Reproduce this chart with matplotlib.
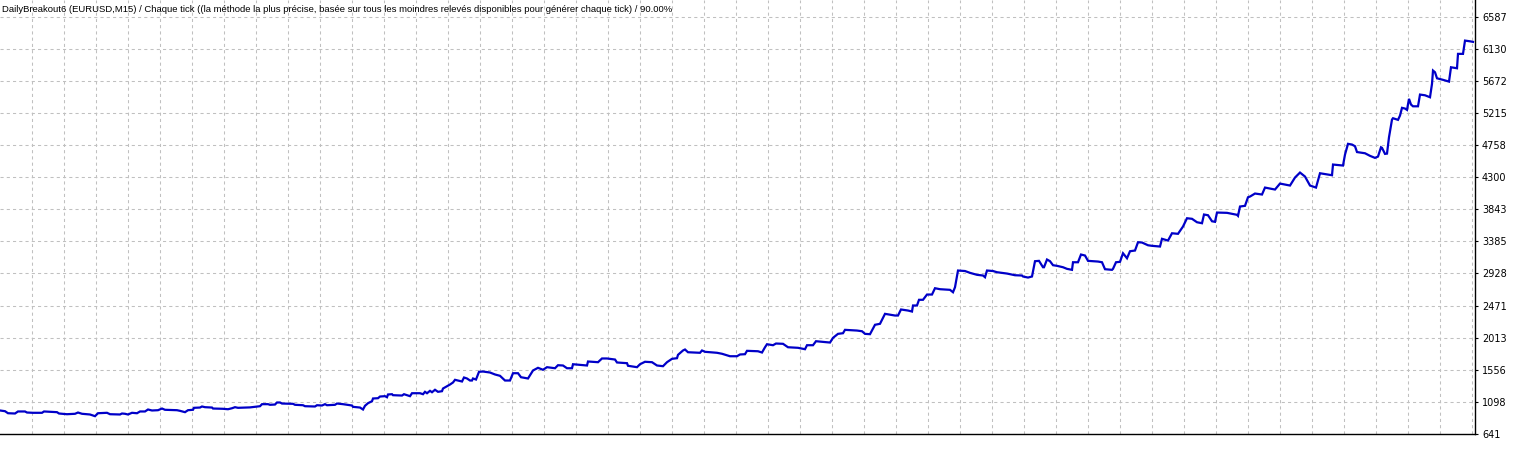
import numpy as np
import matplotlib
matplotlib.use("Agg")
import matplotlib.pyplot as plt

# Courbe de balance (numéro de trade, balance)
trades = [0, 5, 8, 15, 18, 25, 27, 33, 42, 44, 57, 59, 67, 75, 78, 82, 90, 95, 98, 107,
          110, 120, 122, 125, 128, 132, 137, 140, 145, 148, 152, 158, 162, 165, 177, 180, 185, 188, 193, 194,
          200, 202, 205, 212, 213, 223, 228, 232, 235, 238, 250, 260, 262, 268, 270, 275, 277, 280, 282, 293,
          295, 303, 305, 315, 317, 322, 325, 327, 335, 337, 343, 347, 352, 353, 360, 363, 365, 368, 372, 373,
          378, 380, 385, 387, 388, 392, 393, 402, 404, 407, 410, 412, 420, 423, 425, 427, 430, 432, 435, 438,
          442, 443, 447, 450, 453, 455, 458, 462, 464, 467, 470, 472, 473, 476, 479, 483, 490, 495, 500, 505,
          510, 513, 518, 521, 528, 533, 538, 543, 547, 555, 558, 563, 567, 572, 573, 587, 588, 598, 602, 607,
          615, 617, 627, 628, 637, 640, 645, 652, 657, 663, 667, 672, 677, 678, 683, 685, 688, 700, 702, 705,
          717, 722, 730, 737, 740, 745, 747, 758, 762, 765, 767, 773, 776, 783, 788, 798, 805, 807, 813, 816,
          830, 833, 838, 843, 845, 857, 862, 865, 870, 875, 880, 885, 895, 898, 901, 908, 912, 913, 917, 919,
          923, 927, 932, 935, 940, 950, 953, 955, 958, 965, 970, 977, 983, 985, 987, 993, 997, 1007, 1015, 1022,
          1023, 1028, 1032, 1035, 1039, 1043, 1044, 1047, 1050, 1053, 1057, 1063, 1067, 1072, 1073, 1078, 1081, 1085, 1088, 1098,
          1102, 1105, 1112, 1113, 1116, 1120, 1123, 1127, 1130, 1135, 1138, 1142, 1148, 1152, 1160, 1162, 1168, 1172, 1178, 1183,
          1187, 1192, 1197, 1202, 1204, 1208, 1212, 1215, 1217, 1227, 1237, 1238, 1240, 1245, 1248, 1250, 1255, 1262, 1265, 1275,
          1280, 1290, 1295, 1300, 1305, 1310, 1316, 1318, 1320, 1328, 1332, 1333, 1343, 1345, 1348, 1352, 1355, 1357, 1365, 1370,
          1375, 1378, 1381, 1382, 1385, 1387, 1389, 1392, 1393, 1398, 1400, 1402, 1405, 1407, 1409, 1411, 1413, 1418, 1420, 1425,
          1430, 1432, 1433, 1435, 1437, 1443, 1449, 1451, 1457, 1458, 1463, 1465, 1470, 1473]
balance = [976, 966, 937, 933, 962, 962, 947, 943, 943, 962, 952, 933, 923, 929, 947, 929, 919, 895, 937, 943,
           923, 919, 933, 929, 919, 943, 937, 962, 962, 990, 976, 980, 1004, 986, 980, 971, 952, 980, 986, 1014,
           1018, 1033, 1023, 1018, 1004, 1000, 994, 1008, 1023, 1014, 1020, 1037, 1066, 1066, 1057, 1061, 1090, 1090, 1075, 1071,
           1057, 1051, 1037, 1033, 1051, 1047, 1066, 1051, 1057, 1075, 1066, 1057, 1047, 1028, 1018, 990, 1043, 1080, 1108, 1147,
           1151, 1175, 1180, 1165, 1204, 1208, 1194, 1189, 1208, 1194, 1180, 1222, 1222, 1208, 1242, 1222, 1256, 1236, 1271, 1242,
           1251, 1289, 1322, 1346, 1375, 1413, 1403, 1389, 1446, 1432, 1403, 1403, 1432, 1417, 1527, 1531, 1517, 1489, 1470, 1403,
           1403, 1507, 1507, 1450, 1432, 1546, 1584, 1556, 1593, 1578, 1621, 1617, 1578, 1578, 1635, 1617, 1674, 1664, 1717, 1717,
           1702, 1660, 1650, 1613, 1593, 1635, 1670, 1664, 1617, 1607, 1664, 1712, 1721, 1769, 1831, 1845, 1806, 1798, 1831, 1812,
           1798, 1784, 1749, 1749, 1774, 1778, 1826, 1820, 1802, 1877, 1920, 1906, 1930, 1926, 1877, 1869, 1849, 1906, 1906, 1963,
           1944, 2011, 2068, 2077, 2125, 2115, 2105, 2068, 2063, 2197, 2211, 2353, 2329, 2329, 2415, 2400, 2386, 2472, 2472, 2553,
           2553, 2628, 2628, 2718, 2704, 2695, 2661, 2732, 2970, 2963, 2937, 2909, 2899, 2875, 2970, 2963, 2946, 2927, 2903, 2899,
           2885, 2870, 2885, 3103, 3108, 3017, 3017, 3127, 3103, 3046, 3037, 3017, 2994, 2980, 3088, 3088, 3198, 3184, 3108, 3098,
           3088, 2989, 2980, 2994, 3088, 3094, 3216, 3145, 3245, 3255, 3373, 3369, 3330, 3322, 3312, 3422, 3397, 3501, 3493, 3597,
           3715, 3707, 3658, 3644, 3768, 3758, 3672, 3664, 3796, 3792, 3764, 3749, 3882, 3892, 4014, 4024, 4067, 4053, 4152, 4124,
           4209, 4181, 4295, 4366, 4309, 4181, 4152, 4252, 4356, 4338, 4328, 4480, 4466, 4622, 4775, 4765, 4741, 4658, 4641, 4604,
           4575, 4594, 4726, 4718, 4632, 4636, 4869, 5121, 5140, 5117, 5178, 5288, 5278, 5259, 5416, 5335, 5310, 5310, 5477, 5467,
           5439, 5630, 5819, 5795, 5709, 5687, 5662, 5866, 5852, 6057, 6057, 6246, 6236, 6228]

yticks = [641, 1098, 1556, 2013, 2471, 2928, 3385, 3843, 4300, 4758, 5215, 5672, 6130, 6587]
titre = ("DailyBreakout6 (EURUSD,M15) / Chaque tick ((la méthode la plus précise, basée sur tous "
         "les moindres relevés disponibles pour générer chaque tick) / 90.00%")

fig = plt.figure(figsize=(15.2, 4.5), dpi=100)
ax = fig.add_axes([0, 16 / 450, 1475 / 1520, 434 / 450])

ax.plot(trades, balance, color="#0000C8", lw=1.6, solid_joinstyle="miter")

ax.set_xlim(0, 1475)
ax.set_ylim(641, 641 + 434 * 457.35 / 32.1)
ax.set_xticks(np.arange(32, 1475, 32))
ax.set_yticks(yticks)
ax.set_yticklabels([str(v) for v in yticks])
ax.grid(True, color="#C0C0C0", lw=0.75, linestyle=(0, (3, 3)))
ax.yaxis.tick_right()
ax.tick_params(axis="y", length=2, width=0.8, pad=3, labelsize=7, colors="black")
ax.tick_params(axis="x", length=0, labelbottom=False)
ax.spines["top"].set_visible(False)
ax.spines["left"].set_visible(False)
for s in ("right", "bottom"):
    ax.spines[s].set_linewidth(1)
    ax.spines[s].set_color("black")

fig.text(2 / 1520, 1 - 9 / 450, titre, fontsize=6.8, family="Liberation Sans",
         va="center", ha="left", color="black")

fig.savefig("out.png", dpi=100)
